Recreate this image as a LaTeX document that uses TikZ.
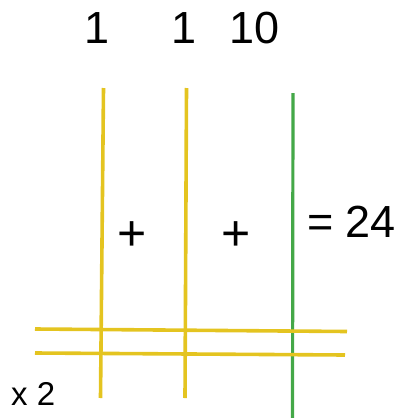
\documentclass[tikz,border=0pt]{standalone}
\usepackage{fontspec}
\setmainfont{Liberation Sans}
\definecolor{stickyellow}{RGB}{228,196,32}
\definecolor{stickgreen}{RGB}{68,168,72}
\begin{document}
\begin{tikzpicture}[x=1pt,y=-1pt,
    stick/.style={line width=3.6pt,stickyellow},
    greenstick/.style={line width=3.2pt,stickgreen},
    big/.style={font=\fontsize{45}{45}\selectfont,inner sep=0pt,anchor=base},
    small/.style={font=\fontsize{33}{33}\selectfont,inner sep=0pt,anchor=base west}]
    \useasboundingbox (0,0) rectangle (398,418);
    % the three upright sticks
    \draw[stick] (103.5,88) -- (100.5,398);
    \draw[stick] (186.5,88) -- (185,398);
    \draw[greenstick] (293,93) -- (292.5,418);
    % the two lying sticks
    \draw[stick] (35,329) -- (347,331.5);
    \draw[stick] (35,353) -- (345,355);
    % numbers and signs
    \node[big] (one) at (97,43) {1};
    \node[big] (two) at (184,43) {1};
    \node[big] (ten) at (255,43) {10};
    \node[big,font=\fontsize{50}{50}\selectfont] (plusa) at (132,250) {+};
    \node[big,font=\fontsize{50}{50}\selectfont] (plusb) at (236,250) {+};
    \node[big,anchor=base west] (sum) at (307,237) {= 24};
    \node[small] (times) at (11,405) {x 2};
\end{tikzpicture}
\end{document}
